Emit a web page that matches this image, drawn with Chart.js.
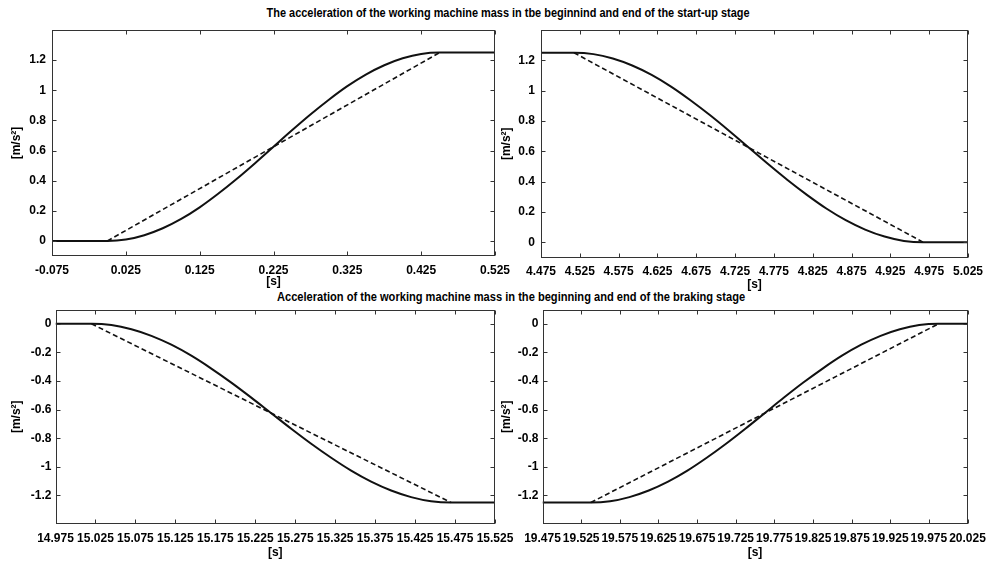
<!DOCTYPE html>
<html>
<head>
<meta charset="utf-8">
<script src="https://cdn.jsdelivr.net/npm/chart.js@4.4.1/dist/chart.umd.min.js"></script>
<style>
html,body{margin:0;padding:0;background:#fff;}
body{width:993px;height:561px;position:relative;overflow:hidden;font-family:"Liberation Sans",Arial,sans-serif;}
.box{position:absolute;}
.ttl{position:absolute;font-weight:bold;font-size:12px;line-height:14px;white-space:nowrap;color:#000;transform-origin:center center;}
</style>
</head>
<body>
<div class="ttl" id="t1"></div>
<div class="ttl" id="t2"></div>
<div class="box" style="left:0;top:20px;width:520px;height:280px"><canvas id="c1"></canvas></div>
<div class="box" style="left:490px;top:20px;width:503px;height:280px"><canvas id="c2"></canvas></div>
<div class="box" style="left:0;top:300px;width:520px;height:261px"><canvas id="c3"></canvas></div>
<div class="box" style="left:490px;top:300px;width:503px;height:261px"><canvas id="c4"></canvas></div>
<script>
// ---------- texts ----------
const titleStart = "The acceleration of the working machine mass in tbe beginnind and end of the start-up stage";
const titleBrake = "Acceleration of the working machine mass in the beginning and end of the braking stage";
const xAxisLabel = "[s]";
const yAxisLabel = "[m/s\u00B2]";

// ---------- tick values ----------
const xTicksStartBegin = [-0.075, 0.025, 0.125, 0.225, 0.325, 0.425, 0.525];
const xTicksStartEnd = [4.475, 4.525, 4.575, 4.625, 4.675, 4.725, 4.775, 4.825, 4.875, 4.925, 4.975, 5.025];
const xTicksBrakeBegin = [14.975, 15.025, 15.075, 15.125, 15.175, 15.225, 15.275, 15.325, 15.375, 15.425, 15.475, 15.525];
const xTicksBrakeEnd = [19.475, 19.525, 19.575, 19.625, 19.675, 19.725, 19.775, 19.825, 19.875, 19.925, 19.975, 20.025];
const yTicksStart = [0, 0.2, 0.4, 0.6, 0.8, 1, 1.2];
const yTicksBrake = [-1.2, -1, -0.8, -0.6, -0.4, -0.2, 0];

// ---------- series: start-up, beginning ----------
const sbSolidT = [-0.075, 0, 0.025, 0.05, 0.075, 0.1, 0.125, 0.15, 0.175, 0.2, 0.225, 0.25, 0.275, 0.3, 0.325, 0.35, 0.375, 0.4, 0.425, 0.45, 0.525];
const sbSolidA = [0, 0, 0.009, 0.038, 0.084, 0.146, 0.223, 0.313, 0.411, 0.516, 0.625, 0.734, 0.839, 0.937, 1.027, 1.104, 1.166, 1.212, 1.241, 1.25, 1.25];
const sbDashT = [0, 0.45];
const sbDashA = [0, 1.25];

// ---------- series: start-up, end ----------
const seSolidT = [4.475, 4.5175, 4.5425, 4.5675, 4.5925, 4.6175, 4.6425, 4.6675, 4.6925, 4.7175, 4.7425, 4.7675, 4.7925, 4.8175, 4.8425, 4.8675, 4.8925, 4.9175, 4.9425, 4.9675, 5.025];
const seSolidA = [1.25, 1.25, 1.241, 1.212, 1.166, 1.104, 1.027, 0.937, 0.839, 0.734, 0.625, 0.516, 0.411, 0.313, 0.223, 0.146, 0.084, 0.038, 0.009, 0, 0];
const seDashT = [4.5175, 4.9675];
const seDashA = [1.25, 0];

// ---------- series: braking, beginning ----------
const bbSolidT = [14.975, 15.02, 15.045, 15.07, 15.095, 15.12, 15.145, 15.17, 15.195, 15.22, 15.245, 15.27, 15.295, 15.32, 15.345, 15.37, 15.395, 15.42, 15.445, 15.47, 15.525];
const bbSolidA = [0, 0, -0.009, -0.038, -0.084, -0.146, -0.223, -0.313, -0.411, -0.516, -0.625, -0.734, -0.839, -0.937, -1.027, -1.104, -1.166, -1.212, -1.241, -1.25, -1.25];
const bbDashT = [15.02, 15.47];
const bbDashA = [0, -1.25];

// ---------- series: braking, end ----------
const beSolidT = [19.475, 19.5375, 19.5625, 19.5875, 19.6125, 19.6375, 19.6625, 19.6875, 19.7125, 19.7375, 19.7625, 19.7875, 19.8125, 19.8375, 19.8625, 19.8875, 19.9125, 19.9375, 19.9625, 19.9875, 20.025];
const beSolidA = [-1.25, -1.25, -1.241, -1.212, -1.166, -1.104, -1.027, -0.937, -0.839, -0.734, -0.625, -0.516, -0.411, -0.313, -0.223, -0.146, -0.084, -0.038, -0.009, 0, 0];
const beDashT = [19.5375, 19.9875];
const beDashA = [-1.25, 0];

// ---------- styling / layout ----------
Chart.defaults.font.family = '"Liberation Sans", Arial, sans-serif';
Chart.defaults.font.size = 12;
Chart.defaults.font.weight = 'bold';
Chart.defaults.color = '#000';

const boxPlugin = {
  id: 'matlabBox',
  afterDatasetsDraw(chart) {
    const {ctx, chartArea: a, scales} = chart;
    const x = scales.x, y = scales.y;
    const L = Math.round(a.left) + 0.5, R = Math.round(a.right) - 0.5;
    const T = Math.round(a.top) + 0.5, B = Math.round(a.bottom) - 0.5;
    ctx.save();
    ctx.strokeStyle = '#333';
    ctx.lineWidth = 1;
    ctx.strokeRect(L, T, R - L, B - T);
    const tl = 4;
    ctx.beginPath();
    x.ticks.forEach(t => {
      const px = Math.round(x.getPixelForValue(t.value)) + 0.5;
      ctx.moveTo(px, B); ctx.lineTo(px, B - tl);
      ctx.moveTo(px, T); ctx.lineTo(px, T + tl);
    });
    y.ticks.forEach(t => {
      const py = Math.round(y.getPixelForValue(t.value)) + 0.5;
      ctx.moveTo(L, py); ctx.lineTo(L + tl, py);
      ctx.moveTo(R, py); ctx.lineTo(R - tl, py);
    });
    ctx.stroke();
    ctx.restore();
  }
};

function pts(xs, ys) { return xs.map((v, i) => ({x: v, y: ys[i]})); }

function makeChart(id, d, lay) {
  new Chart(document.getElementById(id), {
    type: 'scatter',
    data: {
      datasets: [
        {data: pts(d.dashT, d.dashA), showLine: true, borderColor: '#111', borderWidth: 1.6,
         borderDash: [5, 3], pointRadius: 0, fill: false},
        {data: pts(d.solidT, d.solidA), showLine: true, borderColor: '#111', borderWidth: 2,
         pointRadius: 0, fill: false, cubicInterpolationMode: 'monotone'}
      ]
    },
    options: {
      responsive: true, maintainAspectRatio: false, animation: false,
      layout: {padding: {left: 0, top: lay.padTop, right: lay.padRight, bottom: 0}},
      plugins: {legend: {display: false}, tooltip: {enabled: false}},
      scales: {
        x: {
          type: 'linear', position: 'bottom', min: d.xMin, max: d.xMax,
          grid: {display: false, drawTicks: false}, border: {display: false},
          ticks: {autoSkip: false, maxRotation: 0, minRotation: 0, padding: lay.xTickPad,
                  callback: v => Number(v).toFixed(3)},
          afterBuildTicks: s => { s.ticks = d.xTicks.map(v => ({value: v})); },
          afterFit: s => { s.height = lay.xH; s.paddingLeft = 0; s.paddingRight = 0; },
          title: {display: true, text: xAxisLabel, padding: {top: 0, bottom: lay.xTitlePad}}
        },
        y: {
          type: 'linear', position: 'left', min: d.yMin, max: d.yMax,
          grid: {display: false, drawTicks: false}, border: {display: false},
          ticks: {autoSkip: false, padding: lay.yTickPad,
                  callback: v => String(Number(Number(v).toFixed(1)))},
          afterBuildTicks: s => { s.ticks = d.yTicks.map(v => ({value: v})); },
          afterFit: s => { s.width = lay.yW; s.paddingTop = 0; s.paddingBottom = 0; },
          title: {display: true, text: yAxisLabel, padding: {top: lay.yTitlePad, bottom: 0}}
        }
      }
    },
    plugins: [boxPlugin]
  });
}

makeChart('c1',
  {solidT: sbSolidT, solidA: sbSolidA, dashT: sbDashT, dashA: sbDashA,
   xMin: -0.075, xMax: 0.525, yMin: -0.1, yMax: 1.4, xTicks: xTicksStartBegin, yTicks: yTicksStart},
  {padTop: 10, padRight: 25, xH: 44, yW: 52, xTickPad: 7, yTickPad: 6, xTitlePad: 11, yTitlePad: 9});
makeChart('c2',
  {solidT: seSolidT, solidA: seSolidA, dashT: seDashT, dashA: seDashA,
   xMin: 4.475, xMax: 5.025, yMin: -0.1, yMax: 1.4, xTicks: xTicksStartEnd, yTicks: yTicksStart},
  {padTop: 10, padRight: 25, xH: 42.5, yW: 51, xTickPad: 7, yTickPad: 6, xTitlePad: 8, yTitlePad: 9});
makeChart('c3',
  {solidT: bbSolidT, solidA: bbSolidA, dashT: bbDashT, dashA: bbDashA,
   xMin: 14.975, xMax: 15.525, yMin: -1.4, yMax: 0.1, xTicks: xTicksBrakeBegin, yTicks: yTicksBrake},
  {padTop: 9.5, padRight: 25, xH: 37, yW: 55.5, xTickPad: 7, yTickPad: 4, xTitlePad: 1, yTitlePad: 9});
makeChart('c4',
  {solidT: beSolidT, solidA: beSolidA, dashT: beDashT, dashA: beDashA,
   xMin: 19.475, xMax: 20.025, yMin: -1.4, yMax: 0.1, xTicks: xTicksBrakeEnd, yTicks: yTicksBrake},
  {padTop: 9.5, padRight: 25.5, xH: 37, yW: 52.5, xTickPad: 7, yTickPad: 4, xTitlePad: 1, yTitlePad: 9});

function placeTitle(id, text, cx, cy, targetW) {
  const el = document.getElementById(id);
  el.textContent = text;
  const w = el.offsetWidth;
  el.style.left = (cx - w / 2) + 'px';
  el.style.top = (cy - 7) + 'px';
  el.style.transform = 'scaleX(' + (targetW / w).toFixed(3) + ')';
}
placeTitle('t1', titleStart, 508, 13, 483);
placeTitle('t2', titleBrake, 511, 297, 468);
</script>
</body>
</html>
